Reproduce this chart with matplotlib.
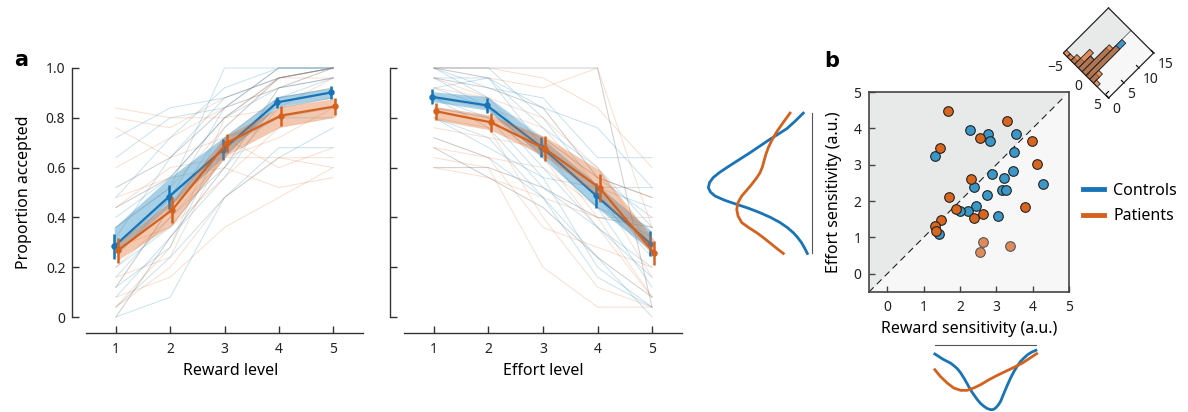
import numpy as np
import matplotlib
matplotlib.use('Agg')
import matplotlib.pyplot as plt
from matplotlib.lines import Line2D
from matplotlib.colors import to_rgba
from matplotlib.transforms import Affine2D
from mpl_toolkits.axisartist import floating_axes
from mpl_toolkits.axisartist.grid_finder import FixedLocator

plt.rcParams['font.family'] = ['Noto Sans', 'DejaVu Sans']
plt.rcParams['axes.unicode_minus'] = True

# ---------------- data ----------------
levels = [1, 2, 3, 4, 5]
ytick_vals = [0, 0.2, 0.4, 0.6, 0.8, 1.0]
ytick_labels = ['0', '0.2', '0.4', '0.6', '0.8', '1.0']

# Reward panel: group means, SEM, model bands
ctrl_reward_mean = [0.284, 0.482, 0.672, 0.862, 0.902]
ctrl_reward_sem = [0.050, 0.050, 0.043, 0.023, 0.025]
pat_reward_mean = [0.268, 0.431, 0.699, 0.809, 0.846]
pat_reward_sem = [0.050, 0.052, 0.035, 0.040, 0.033]
ctrl_reward_band_lo = [0.25, 0.44, 0.64, 0.845, 0.88]
ctrl_reward_band_hi = [0.36, 0.557, 0.72, 0.885, 0.92]
pat_reward_band_lo = [0.23, 0.37, 0.65, 0.764, 0.804]
pat_reward_band_hi = [0.30, 0.47, 0.73, 0.845, 0.878]

# Effort panel
ctrl_effort_mean = [0.884, 0.850, 0.683, 0.489, 0.295]
ctrl_effort_sem = [0.030, 0.030, 0.040, 0.050, 0.050]
pat_effort_mean = [0.826, 0.782, 0.675, 0.518, 0.257]
pat_effort_sem = [0.033, 0.037, 0.050, 0.058, 0.047]
ctrl_effort_band_lo = [0.865, 0.831, 0.65, 0.443, 0.269]
ctrl_effort_band_hi = [0.905, 0.885, 0.72, 0.537, 0.349]
pat_effort_band_lo = [0.791, 0.751, 0.644, 0.483, 0.242]
pat_effort_band_hi = [0.845, 0.811, 0.724, 0.59, 0.309]

# Individual participants (proportion accepted at each level)
ctrl_reward_ind = [
    [0.72, 0.84, 0.88, 0.96, 1.00],
    [0.64, 0.80, 0.84, 1.00, 1.00],
    [0.48, 0.72, 0.92, 1.00, 1.00],
    [0.40, 0.56, 0.80, 0.92, 1.00],
    [0.36, 0.52, 1.00, 1.00, 1.00],
    [0.28, 0.48, 0.84, 0.92, 0.96],
    [0.20, 0.36, 0.64, 0.88, 0.92],
    [0.12, 0.44, 0.76, 0.96, 1.00],
    [0.08, 0.32, 0.56, 0.88, 0.96],
    [0.04, 0.24, 0.48, 0.64, 0.76],
    [0.00, 0.08, 0.48, 0.68, 0.68],
    [0.16, 0.40, 0.60, 0.84, 0.88],
    [0.12, 0.28, 0.72, 0.80, 0.84],
    [0.32, 0.64, 0.88, 0.96, 1.00],
    [0.24, 0.48, 0.68, 0.80, 0.80],
]
pat_reward_ind = [
    [0.84, 0.80, 0.80, 0.84, 0.96],
    [0.80, 0.76, 0.88, 0.96, 0.96],
    [0.76, 0.64, 0.72, 0.60, 0.68],
    [0.60, 0.72, 0.84, 0.92, 1.00],
    [0.48, 0.56, 0.60, 0.52, 0.56],
    [0.04, 0.28, 0.80, 0.96, 1.00],
    [0.04, 0.20, 0.48, 0.64, 0.64],
    [0.08, 0.16, 0.36, 0.48, 0.60],
    [0.20, 0.40, 0.64, 0.72, 0.84],
    [0.28, 0.36, 0.56, 0.76, 0.80],
    [0.12, 0.44, 0.72, 0.88, 0.92],
    [0.16, 0.24, 0.68, 0.84, 0.88],
    [0.36, 0.52, 0.76, 0.96, 1.00],
    [0.44, 0.60, 0.64, 0.64, 0.60],
]
gray_reward_ind = [
    [0.52, 0.64, 0.84, 1.00, 1.00],
    [0.00, 0.32, 0.60, 0.92, 0.96],
    [0.44, 0.56, 0.80, 0.96, 1.00],
]
ctrl_effort_ind = [
    [1.00, 0.92, 0.88, 0.64, 0.64],
    [0.96, 0.96, 0.84, 0.76, 0.52],
    [1.00, 1.00, 0.80, 0.52, 0.52],
    [0.92, 0.96, 0.68, 0.48, 0.24],
    [0.88, 0.80, 0.56, 0.20, 0.04],
    [0.80, 0.72, 0.48, 0.24, 0.00],
    [0.96, 0.84, 0.60, 0.36, 0.16],
    [1.00, 0.88, 0.72, 0.56, 0.40],
    [0.84, 0.80, 0.64, 0.44, 0.32],
    [0.80, 0.68, 0.56, 0.52, 0.44],
    [0.92, 0.84, 0.64, 0.44, 0.12],
    [0.72, 0.64, 0.48, 0.16, 0.04],
    [0.88, 0.76, 0.52, 0.36, 0.20],
    [1.00, 0.96, 0.76, 0.60, 0.36],
]
pat_effort_ind = [
    [1.00, 1.00, 0.96, 0.84, 0.60],
    [1.00, 0.96, 0.92, 1.00, 0.36],
    [0.76, 0.72, 0.68, 0.40, 0.08],
    [0.64, 0.60, 0.20, 0.04, 0.04],
    [0.72, 0.64, 0.36, 0.28, 0.20],
    [0.60, 0.56, 0.48, 0.40, 0.40],
    [0.80, 0.76, 0.40, 0.12, 0.04],
    [0.84, 0.80, 0.72, 0.56, 0.48],
    [0.96, 0.88, 0.80, 0.60, 0.28],
    [0.68, 0.64, 0.60, 0.44, 0.36],
    [0.88, 0.84, 0.76, 0.52, 0.16],
    [0.92, 0.88, 0.64, 0.36, 0.08],
]
gray_effort_ind = [
    [1.00, 1.00, 1.00, 1.00, 0.04],
    [0.96, 0.92, 0.84, 0.56, 0.48],
    [0.68, 0.56, 0.44, 0.24, 0.08],
    [0.60, 0.60, 0.52, 0.40, 0.36],
]

# Panel b scatter: reward and effort sensitivity
ctrl_reward_sens = [2.28, 2.77, 2.83, 3.55, 3.50, 1.32, 2.87, 3.45, 3.22, 2.39,
                    4.29, 2.75, 3.17, 3.26, 2.44, 2.23, 2.00, 3.05, 1.43]
ctrl_effort_sens = [3.96, 3.85, 3.64, 3.84, 3.35, 3.24, 2.74, 2.83, 2.63, 2.38,
                    2.47, 2.18, 2.31, 2.31, 1.87, 1.74, 1.72, 1.59, 1.10]
pat_reward_sens = [1.67, 3.30, 1.45, 2.56, 3.97, 4.11, 2.31, 1.69, 1.88, 1.49,
                   1.32, 1.33, 2.39, 2.64, 3.78]
pat_effort_sens = [4.49, 4.19, 3.45, 3.74, 3.66, 3.03, 2.60, 2.10, 1.79, 1.48,
                   1.31, 1.19, 1.54, 1.65, 1.83]
pat_light_reward_sens = [2.64, 2.56, 3.37]
pat_light_effort_sens = [0.88, 0.60, 0.77]
sens_ticks = [0, 1, 2, 3, 4, 5]

# Marginal densities (traced)
reward_grid_ctrl = [1.31, 1.42, 1.51, 1.62, 1.74, 1.83, 1.93, 2.02, 2.11, 2.20, 2.29,
                    2.39, 2.48, 2.57, 2.66, 2.75, 2.85, 2.92, 2.98, 3.05, 3.12, 3.21,
                    3.31, 3.40, 3.49, 3.58, 3.67, 3.77, 3.86, 3.97, 4.09]
reward_dens_ctrl = [0.138, 0.175, 0.208, 0.240, 0.272, 0.310, 0.357, 0.418, 0.495,
                    0.580, 0.669, 0.750, 0.817, 0.874, 0.915, 0.948, 0.966, 0.962,
                    0.941, 0.900, 0.841, 0.722, 0.594, 0.488, 0.395, 0.315, 0.247,
                    0.193, 0.149, 0.112, 0.083]
reward_grid_pat = [1.31, 1.46, 1.65, 1.83, 2.02, 2.20, 2.38, 2.57, 2.80, 3.03,
                   3.26, 3.49, 3.72, 3.90, 4.11]
reward_dens_pat = [0.371, 0.470, 0.569, 0.643, 0.678, 0.678, 0.643, 0.594, 0.520,
                   0.455, 0.395, 0.336, 0.272, 0.208, 0.134]
effort_grid_ctrl = [4.42, 4.20, 3.99, 3.85, 3.70, 3.52, 3.33, 3.12, 2.92, 2.78, 2.65,
                    2.51, 2.37, 2.25, 2.14, 2.02, 1.91, 1.80, 1.68, 1.55, 1.41, 1.27,
                    1.13, 0.99, 0.85, 0.70, 0.56]
effort_dens_ctrl = [0.125, 0.245, 0.371, 0.490, 0.620, 0.765, 0.917, 1.095, 1.263,
                    1.375, 1.462, 1.518, 1.536, 1.505, 1.437, 1.290, 1.114, 0.935,
                    0.768, 0.610, 0.471, 0.360, 0.273, 0.205, 0.149, 0.103, 0.065]
effort_grid_pat = [4.42, 4.17, 3.93, 3.70, 3.47, 3.28, 3.10, 2.94, 2.78, 2.62, 2.46,
                   2.30, 2.14, 1.96, 1.77, 1.59, 1.41, 1.27, 1.13, 0.99, 0.85, 0.70,
                   0.56]
effort_dens_pat = [0.322, 0.420, 0.511, 0.585, 0.645, 0.682, 0.709, 0.733, 0.768,
                   0.825, 0.892, 0.965, 1.040, 1.095, 1.114, 1.095, 1.040, 0.935,
                   0.817, 0.715, 0.620, 0.520, 0.422]

# Rotated histogram of sensitivity difference
diff_bin_centers = [-5.5, -4.5, -3.5, -2.5, -1.5, -0.5, 0.5, 1.5, 2.5]
pat_diff_counts = [1, 1, 2, 5, 4, 9, 10, 3, 1]
ctrl_diff_counts = [0, 0, 1, 2, 4, 8, 12, 2, 0]
diff_ticks = [-5, 0, 5]
count_ticks = [0, 5, 10, 15]

# ---------------- style ----------------
BLUE = '#1874b6'
ORANGE = '#d4621e'
BLUE_PT = '#3c97c9'
ORANGE_PT = '#d8661f'
ORANGE_LIGHT = '#e08a5a'
SPINE = '#333333'
W, H = 1188, 412

fig = plt.figure(figsize=(W / 100, H / 100), dpi=100)


def draw_panel(ax, ctrl_ind, pat_ind, gray_ind, cm, cs, pm, ps, cbl, cbh, pbl, pbh):
    for row in ctrl_ind:
        ax.plot(levels, row, color=BLUE_PT, lw=0.7, alpha=0.28, zorder=1)
    for row in pat_ind:
        ax.plot(levels, row, color='#e07030', lw=0.7, alpha=0.22, zorder=1)
    for row in gray_ind:
        ax.plot(levels, row, color='#707070', lw=0.7, alpha=0.35, zorder=1)
    xc = np.array(levels) - 0.03
    xp = np.array(levels) + 0.04
    ax.fill_between(xc, cbl, cbh, color=BLUE_PT, alpha=0.45, lw=0, zorder=2)
    ax.errorbar(xc, cm, yerr=cs, color=BLUE, lw=1.6, elinewidth=1.8, marker='o',
                ms=3.6, capsize=0, zorder=3)
    ax.fill_between(xp, pbl, pbh, color='#e07030', alpha=0.38, lw=0, zorder=4)
    ax.errorbar(xp, pm, yerr=ps, color=ORANGE, lw=1.6, elinewidth=1.8, marker='o',
                ms=3.6, capsize=0, zorder=5)
    ax.set_xlim(0.45, 5.55)
    ax.set_ylim(-0.064, 1.008)
    ax.set_xticks(levels)
    ax.set_yticks(ytick_vals)
    for s in ['top', 'right']:
        ax.spines[s].set_visible(False)
    ax.spines['left'].set_position(('outward', 10))
    ax.spines['left'].set_bounds(0, 1)
    for s in ['left', 'bottom']:
        ax.spines[s].set_color(SPINE)
        ax.spines[s].set_linewidth(1.0)
    ax.tick_params(axis='both', direction='in', length=4.8, width=1.0, color=SPINE,
                   labelsize=10, labelcolor='#222222')
    ax.tick_params(axis='x', pad=6.5)
    ax.tick_params(axis='y', pad=4.8)


# Panel a, left
ax1 = fig.add_axes([86 / W, 79 / H, 277 / W, 267 / H])
draw_panel(ax1, ctrl_reward_ind, pat_reward_ind, gray_reward_ind,
           ctrl_reward_mean, ctrl_reward_sem, pat_reward_mean, pat_reward_sem,
           ctrl_reward_band_lo, ctrl_reward_band_hi, pat_reward_band_lo, pat_reward_band_hi)
ax1.set_yticklabels(ytick_labels)
ax1.set_xlabel('Reward level', fontsize=11.5, va='top')
ax1.xaxis.set_label_coords(0.523, -0.112)
ax1.set_ylabel('Proportion accepted', fontsize=11.5)
ax1.yaxis.set_label_coords(-0.195, 0.528)

# Panel a, right
ax2 = fig.add_axes([404 / W, 79 / H, 278 / W, 267 / H])
draw_panel(ax2, ctrl_effort_ind, pat_effort_ind, gray_effort_ind,
           ctrl_effort_mean, ctrl_effort_sem, pat_effort_mean, pat_effort_sem,
           ctrl_effort_band_lo, ctrl_effort_band_hi, pat_effort_band_lo, pat_effort_band_hi)
ax2.set_yticklabels([])
ax2.set_xlabel('Effort level', fontsize=11.5, va='top')
ax2.xaxis.set_label_coords(0.5, -0.112)

# Panel b scatter
lim = (-0.5, 5)
axs = fig.add_axes([869 / W, 120 / H, 200 / W, 200 / H])
axs.set_facecolor('#f7f7f7')
axs.fill([lim[0], lim[0], lim[1]], [lim[0], lim[1], lim[1]], color='#e8eae9', lw=0, zorder=0)
axs.plot([lim[0], 4.85], [lim[0], 4.85], color='#222222', lw=0.8, ls=(0, (6, 4)), zorder=1)
axs.scatter(ctrl_reward_sens, ctrl_effort_sens, s=48, color=BLUE_PT, edgecolor='#222222',
            lw=0.8, zorder=3)
axs.scatter(pat_reward_sens, pat_effort_sens, s=48, color=ORANGE_PT, edgecolor='#222222',
            lw=0.8, zorder=4)
axs.scatter(pat_light_reward_sens, pat_light_effort_sens, s=48, color=ORANGE_LIGHT,
            edgecolor='#555555', lw=0.8, zorder=4)
axs.set_xlim(*lim)
axs.set_ylim(*lim)
axs.set_xticks(sens_ticks)
axs.set_yticks(sens_ticks)
for s in axs.spines.values():
    s.set_color('#444444')
    s.set_linewidth(1.2)
axs.tick_params(axis='both', direction='in', length=4, width=1.0, color='#444444',
                labelsize=10, labelcolor='#222222', pad=5.5)
axs.set_xlabel('Reward sensitivity (a.u.)', fontsize=11.5, va='top')
axs.xaxis.set_label_coords(0.5, -0.145)
axs.set_ylabel('Effort sensitivity (a.u.)', fontsize=11.5)
axs.yaxis.set_label_coords(-0.135, 0.5)
handles = [Line2D([], [], color=BLUE, lw=3.5), Line2D([], [], color=ORANGE, lw=3.5)]
axs.legend(handles, ['Controls', 'Patients'], loc='center left', bbox_to_anchor=(1.07, 0.4425),
           frameon=False, fontsize=11.5, handlelength=1.3, handletextpad=0.6, borderpad=0,
           borderaxespad=0, labelspacing=0.6)

# Left marginal (effort sensitivity density)
axm = fig.add_axes([700 / W, 120 / H, 111.7 / W, 200 / H])
axm.plot(effort_dens_ctrl, effort_grid_ctrl, color=BLUE, lw=2)
axm.plot(effort_dens_pat, effort_grid_pat, color=ORANGE, lw=2)
axm.set_xlim(1.66, 0)
axm.set_ylim(*lim)
axm.set_xticks([])
axm.set_yticks([])
axm.patch.set_alpha(0)
for s in ['top', 'left', 'bottom']:
    axm.spines[s].set_visible(False)
axm.spines['right'].set_color('#555555')
axm.spines['right'].set_bounds(min(effort_grid_ctrl), max(effort_grid_ctrl))

# Bottom marginal (reward sensitivity density)
axb = fig.add_axes([869 / W, 0, 200 / W, 67.3 / H])
axb.plot(reward_grid_ctrl, reward_dens_ctrl, color=BLUE, lw=2)
axb.plot(reward_grid_pat, reward_dens_pat, color=ORANGE, lw=2)
axb.set_xlim(*lim)
axb.set_ylim(1.0, 0.0)
axb.set_xticks([])
axb.set_yticks([])
axb.patch.set_alpha(0)
for s in ['bottom', 'left', 'right']:
    axb.spines[s].set_visible(False)
axb.spines['top'].set_color('#555555')
axb.spines['top'].set_bounds(min(reward_grid_ctrl), max(reward_grid_ctrl))

# Rotated histogram
d0, d1, c0, c1 = -6, 6, 0, 15
tr = Affine2D().scale(1 / (d1 - d0), 1 / (c1 - c0)).rotate_deg(-45)
gh = floating_axes.GridHelperCurveLinear(tr, extremes=(d0, d1, c0, c1),
                                         grid_locator1=FixedLocator(diff_ticks),
                                         grid_locator2=FixedLocator(count_ticks))
axh = fig.add_axes([1062 / W, 313 / H, 93 / W, 92 / H],
                   axes_class=floating_axes.FloatingAxes, grid_helper=gh)
aux = axh.get_aux_axes(tr)
aux.fill_between([d0, 0], c0, c1, color='#e8eae9', lw=0, zorder=0)
aux.fill_between([0, d1], c0, c1, color='#f7f7f7', lw=0, zorder=0)
aux.plot([0, 0], [c0, c1], color='#666666', lw=0.6, zorder=1)
aux.bar(diff_bin_centers, ctrl_diff_counts, width=1, color=BLUE_PT, edgecolor='#222222',
        lw=0.6, zorder=2)
aux.bar(diff_bin_centers, pat_diff_counts, width=1, facecolor=to_rgba('#dc6a28', 0.72),
        edgecolor='#222222', lw=0.6, zorder=3)
for k in ['left', 'top', 'right', 'bottom']:
    axh.axis[k].toggle(ticklabels=False)
    axh.axis[k].line.set_color('#222222')
    axh.axis[k].line.set_linewidth(0.9)
for k in ['left', 'top']:
    axh.axis[k].toggle(ticks=False)
# upright tick labels placed just outside the rotated edges
for t in diff_ticks:
    aux.text(t, c0 - 1.2, f'{t}'.replace('-', '\u2212'), fontsize=10, ha='right', va='top',
             color='#222222', clip_on=False)
for t in count_ticks:
    aux.text(d1 + 1.0, t, f'{t}', fontsize=10, ha='left', va='top', color='#222222',
             clip_on=False)

# Panel letters
fig.text(14 / W, 1 - 66 / H, 'a', fontsize=15, fontweight='bold', family='DejaVu Sans',
         ha='left', va='baseline')
fig.text(824 / W, 1 - 67 / H, 'b', fontsize=15, fontweight='bold', family='DejaVu Sans',
         ha='left', va='baseline')

fig.savefig('out.png', dpi=100)
